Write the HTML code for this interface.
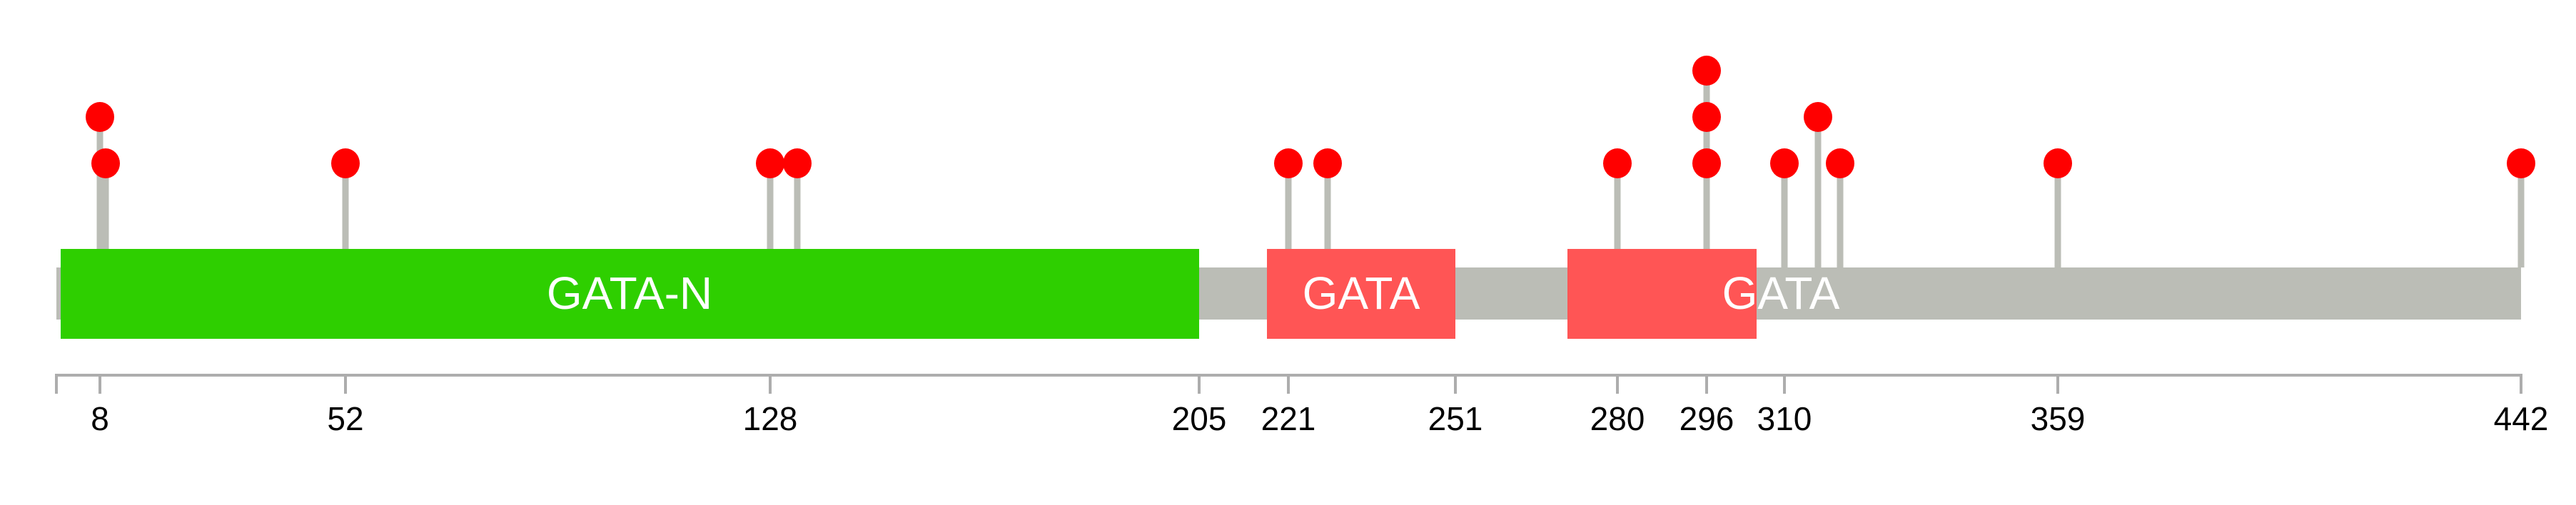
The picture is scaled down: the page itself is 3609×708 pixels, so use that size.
<!DOCTYPE html>
<html><head><meta charset="utf-8"><style>html,body{margin:0;padding:0;background:#fff}svg{display:block}</style></head>
<body>
<svg width="3609" height="708" viewBox="0 0 3609 708" xmlns="http://www.w3.org/2000/svg" font-family="Liberation Sans, sans-serif">
<rect width="3609" height="708" fill="#fff"/>
<g stroke="#BBBDB6" stroke-width="9">
<line x1="140" y1="164" x2="140" y2="375"/>
<line x1="148" y1="229" x2="148" y2="375"/>
<line x1="484" y1="229" x2="484" y2="375"/>
<line x1="1079" y1="229" x2="1079" y2="375"/>
<line x1="1117" y1="229" x2="1117" y2="375"/>
<line x1="1805" y1="229" x2="1805" y2="375"/>
<line x1="1860" y1="229" x2="1860" y2="375"/>
<line x1="2266" y1="229" x2="2266" y2="375"/>
<line x1="2391" y1="99" x2="2391" y2="375"/>
<line x1="2500" y1="229" x2="2500" y2="375"/>
<line x1="2547" y1="164" x2="2547" y2="375"/>
<line x1="2578" y1="229" x2="2578" y2="375"/>
<line x1="2883" y1="229" x2="2883" y2="375"/>
<line x1="3532" y1="229" x2="3532" y2="375"/>
</g>
<rect x="79" y="375" width="3453" height="73" fill="#BBBDB6"/>
<rect x="85" y="349" width="1595" height="126" fill="#2ECF00"/>
<rect x="1775" y="349" width="264" height="126" fill="#FF5555"/>
<rect x="2196" y="349" width="265" height="126" fill="#FF5555"/>
<g fill="#fff" font-size="64" text-anchor="middle">
<text x="882" y="433">GATA-N</text>
<text x="1907" y="433">GATA</text>
<text x="2495" y="433">GATA</text>
</g>
<g fill="#FF0000">
<ellipse cx="140" cy="164" rx="20" ry="21"/>
<ellipse cx="148" cy="229" rx="20" ry="21"/>
<ellipse cx="484" cy="229" rx="20" ry="21"/>
<ellipse cx="1079" cy="229" rx="20" ry="21"/>
<ellipse cx="1117" cy="229" rx="20" ry="21"/>
<ellipse cx="1805" cy="229" rx="20" ry="21"/>
<ellipse cx="1860" cy="229" rx="20" ry="21"/>
<ellipse cx="2266" cy="229" rx="20" ry="21"/>
<ellipse cx="2391" cy="229" rx="20" ry="21"/>
<ellipse cx="2391" cy="164" rx="20" ry="21"/>
<ellipse cx="2391" cy="99" rx="20" ry="21"/>
<ellipse cx="2500" cy="229" rx="20" ry="21"/>
<ellipse cx="2547" cy="164" rx="20" ry="21"/>
<ellipse cx="2578" cy="229" rx="20" ry="21"/>
<ellipse cx="2883" cy="229" rx="20" ry="21"/>
<ellipse cx="3532" cy="229" rx="20" ry="21"/>
</g>
<g stroke="#ADADAD" stroke-width="4">
<line x1="79" y1="526" x2="3534" y2="526"/>
<line x1="79" y1="524" x2="79" y2="552"/>
<line x1="140" y1="526" x2="140" y2="552"/>
<line x1="484" y1="526" x2="484" y2="552"/>
<line x1="1079" y1="526" x2="1079" y2="552"/>
<line x1="1680" y1="526" x2="1680" y2="552"/>
<line x1="1805" y1="526" x2="1805" y2="552"/>
<line x1="2039" y1="526" x2="2039" y2="552"/>
<line x1="2266" y1="526" x2="2266" y2="552"/>
<line x1="2391" y1="526" x2="2391" y2="552"/>
<line x1="2500" y1="526" x2="2500" y2="552"/>
<line x1="2883" y1="526" x2="2883" y2="552"/>
<line x1="3532" y1="524" x2="3532" y2="552"/>
</g>
<g fill="#000" font-size="46" text-anchor="middle">
<text x="140" y="603">8</text>
<text x="484" y="603">52</text>
<text x="1079" y="603">128</text>
<text x="1680" y="603">205</text>
<text x="1805" y="603">221</text>
<text x="2039" y="603">251</text>
<text x="2266" y="603">280</text>
<text x="2391" y="603">296</text>
<text x="2500" y="603">310</text>
<text x="2883" y="603">359</text>
<text x="3532" y="603">442</text>
</g>
</svg>
</body></html>
